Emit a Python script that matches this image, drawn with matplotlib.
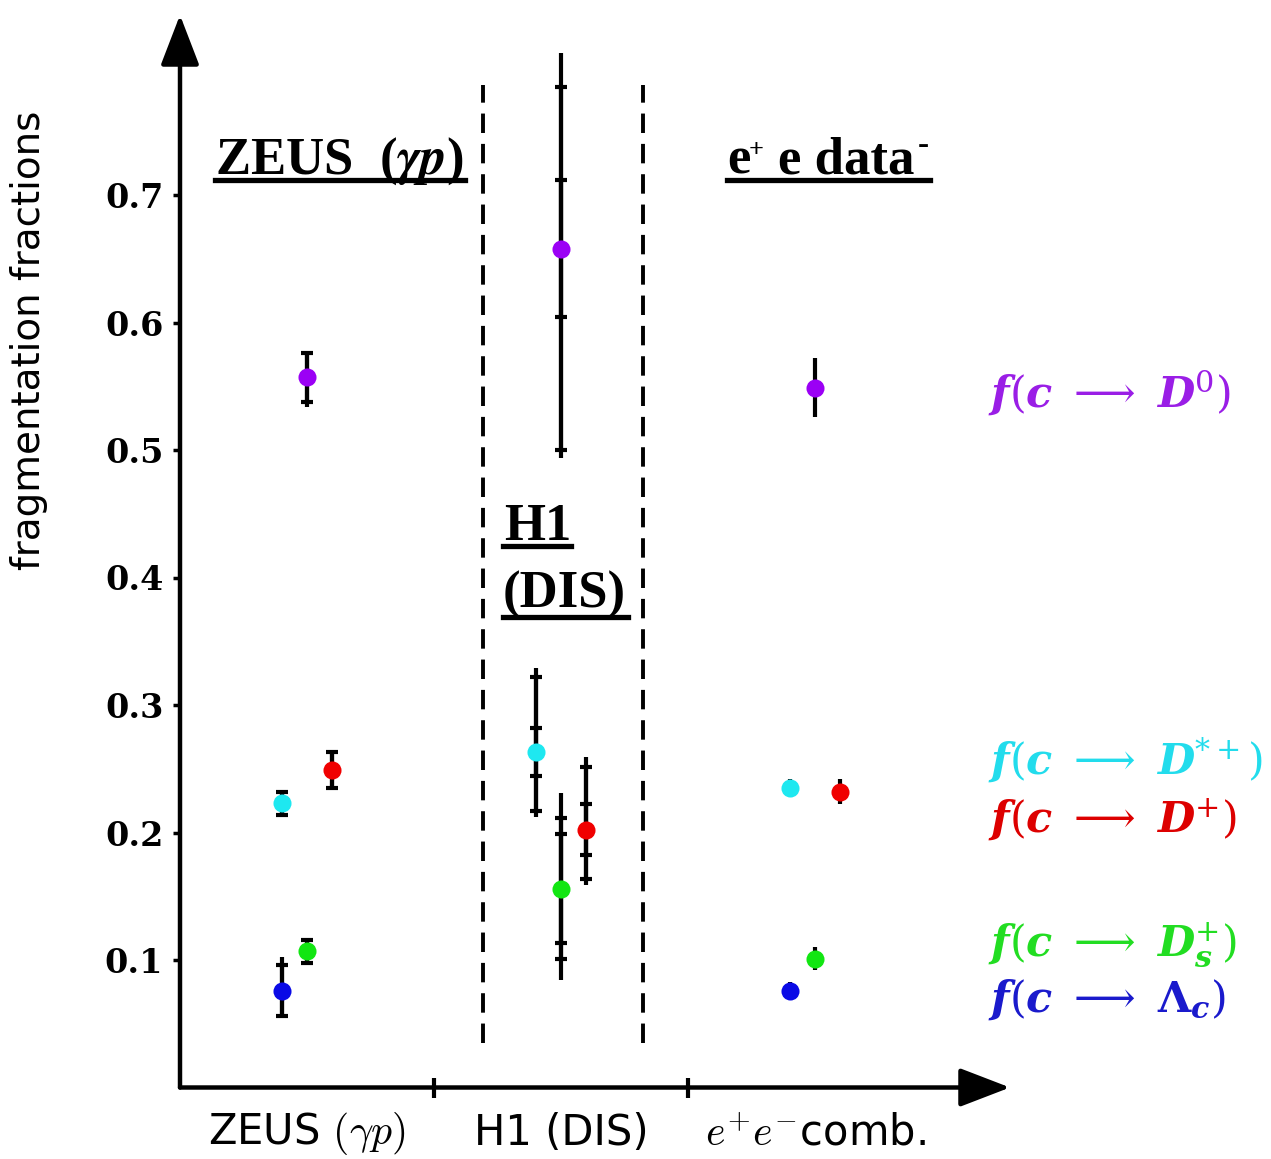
import matplotlib
matplotlib.use('Agg')
import matplotlib.pyplot as plt
from matplotlib.lines import Line2D

W, H = 1271, 1159

# ---------------- data ----------------
group_centres = [0.5, 1.5, 2.5]          # ZEUS, H1, e+e-
channels = ['D0', 'D*+', 'D+', 'Ds+', 'Lc']
channel_offsets = [0.0, -0.1, 0.1, 0.0, -0.1]
colors = ['#9b00f5', '#1ee8f0', '#f00000', '#12e612', '#0a0ae6']
label_colors = ['#9a1ee6', '#22dcec', '#dd0000', '#22dd22', '#1a1acc']

# ZEUS (gamma p): value, stat error (capped), total error (line end)
zeus_val = [0.557, 0.223, 0.249, 0.107, 0.076]
zeus_stat = [0.019, 0.009, 0.014, 0.009, 0.020]
zeus_tot_up = [0.020, 0.009, 0.015, 0.010, 0.026]
zeus_tot_dn = [0.023, 0.010, 0.016, 0.010, 0.020]

# H1 (DIS): D0, D*+, D+, Ds+  (no Lambda_c)
h1_val = [0.658, 0.263, 0.202, 0.156]
h1_stat = [0.054, 0.019, 0.020, 0.043]
h1_sys_up = [0.127, 0.059, 0.049, 0.055]
h1_sys_dn = [0.158, 0.046, 0.0385, 0.055]
h1_tot_up = [0.153, 0.066, 0.057, 0.075]
h1_tot_dn = [0.164, 0.051, 0.043, 0.072]

# e+e- combined
ee_val = [0.549, 0.235, 0.232, 0.101, 0.076]
ee_err = [0.023, 0.007, 0.010, 0.009, 0.007]

yticks = [0.1, 0.2, 0.3, 0.4, 0.5, 0.6, 0.7]
ytick_labels = ['0.1', '0.2', '0.3', '0.4', '0.5', '0.6', '0.7']
xtick_pos = [1, 2]
group_labels = [r'ZEUS $(\gamma p)$', 'H1 (DIS)', r'$e^{+}e^{-}$comb.']
dividers = [1.193, 1.823]
channel_labels = [r'$\mathbfit{f}(\mathbfit{c}\ \longrightarrow\ \mathbfit{D}^{0})$',
                  r'$\mathbfit{f}(\mathbfit{c}\ \longrightarrow\ \mathbfit{D}^{*+})$',
                  r'$\mathbfit{f}(\mathbfit{c}\ \longrightarrow\ \mathbfit{D}^{+})$',
                  r'$\mathbfit{f}(\mathbfit{c}\ \longrightarrow\ \mathbfit{D}_{\mathbfit{s}}^{+})$',
                  r'$\mathbfit{f}(\mathbfit{c}\ \longrightarrow\ \mathbf{\Lambda}_{\mathbfit{c}})$']

# ---------------- figure ----------------
fig = plt.figure(figsize=(W / 100, H / 100), dpi=100)
x0p, x1p, y0p, y1p = 180, 1010, 1087.5, 15
ax = fig.add_axes([x0p / W, 1 - y0p / H, (x1p - x0p) / W, (y0p - y1p) / H])
XMAX = (x1p - x0p) / 254.0
YMAX = (y0p - y1p) / 1275.0
ax.set_xlim(0, XMAX)
ax.set_ylim(0, YMAX)
for s in ax.spines.values():
    s.set_visible(False)


def fx(px):
    return px / W


def fy(py):
    return 1 - py / H


# axes arrows
arrow_kw = dict(arrowstyle='-|>,head_length=1.3,head_width=0.5', lw=3.2,
                color='black', shrinkA=0, shrinkB=0, mutation_scale=24)
ax.annotate('', xy=(0, YMAX), xytext=(0, 0), arrowprops=arrow_kw,
            annotation_clip=False)
ax.annotate('', xy=(XMAX, 0), xytext=(0, 0), arrowprops=arrow_kw,
            annotation_clip=False)

# ticks
ax.set_yticks(yticks)
ax.set_yticklabels(ytick_labels, fontsize=24, family='DejaVu Serif',
                   weight='bold')
ax.tick_params(axis='y', direction='out', length=5, width=2.5, pad=7)
ax.set_xticks(xtick_pos)
ax.set_xticklabels([])
ax.tick_params(axis='x', direction='inout', length=15, width=3)

ax.set_ylabel('fragmentation fractions', fontsize=28, family='DejaVu Sans')
ax.yaxis.set_label_coords(-(180 - 48) / (x1p - x0p), (y0p - 340) / (y0p - y1p))

for c, lab in zip(group_centres, group_labels):
    ax.text(c, -0.036, lab, ha='center', va='center', fontsize=30,
            family='DejaVu Sans', math_fontfamily='cm')

# dashed dividers
for d in dividers:
    ax.plot([d, d], [0.035, 0.786], color='black', lw=2.8,
            linestyle=(0, (5, 2.8)))

ms = 13
elw = 3.0
# ZEUS
for i in range(5):
    x = group_centres[0] + channel_offsets[i]
    ax.errorbar([x], [zeus_val[i]], yerr=[[zeus_tot_dn[i]], [zeus_tot_up[i]]],
                fmt='none', ecolor='black', elinewidth=elw, capsize=0, zorder=2)
    ax.errorbar([x], [zeus_val[i]], yerr=zeus_stat[i], fmt='none',
                ecolor='black', elinewidth=elw, capsize=4.5, capthick=3,
                zorder=2)
    ax.plot([x], [zeus_val[i]], 'o', color=colors[i], ms=ms, mec='none',
            zorder=3)

# H1
for i in range(4):
    x = group_centres[1] + channel_offsets[i]
    ax.errorbar([x], [h1_val[i]], yerr=[[h1_tot_dn[i]], [h1_tot_up[i]]],
                fmt='none', ecolor='black', elinewidth=elw, capsize=0, zorder=2)
    ax.errorbar([x], [h1_val[i]], yerr=[[h1_sys_dn[i]], [h1_sys_up[i]]],
                fmt='none', ecolor='black', elinewidth=elw, capsize=4,
                capthick=3, zorder=2)
    ax.errorbar([x], [h1_val[i]], yerr=h1_stat[i], fmt='none',
                ecolor='black', elinewidth=elw, capsize=4, capthick=3,
                zorder=2)
    ax.plot([x], [h1_val[i]], 'o', color=colors[i], ms=ms, mec='none',
            zorder=3)

# e+e-
for i in range(5):
    x = group_centres[2] + channel_offsets[i]
    ax.errorbar([x], [ee_val[i]], yerr=ee_err[i], fmt='none', ecolor='black',
                elinewidth=elw, capsize=0, zorder=2)
    ax.plot([x], [ee_val[i]], 'o', color=colors[i], ms=ms, mec='none',
            zorder=3)

# channel labels on the right
label_y = [393, 760, 820, 945, 1000]
for lab, col, py in zip(channel_labels, label_colors, label_y):
    fig.text(fx(988), fy(py), lab, color=col, fontsize=31, ha='left',
             va='center', math_fontfamily='dejavuserif')

# experiment titles (underlined)
title_kw = dict(family='Liberation Serif', weight='bold', fontsize=38,
                math_fontfamily='stix', ha='left', va='baseline')
fig.text(fx(215), fy(174), r'ZEUS  ($\mathbfit{\gamma p}$)', **title_kw)
fig.text(fx(727), fy(174), 'e', **title_kw)
fig.text(fx(749), fy(157), '+', family='Liberation Serif', weight='bold',
         fontsize=19, ha='left', va='baseline')
fig.text(fx(778), fy(174), 'e data', **title_kw)
fig.text(fx(918), fy(154), '-', family='Liberation Serif', weight='bold',
         fontsize=24, ha='left', va='baseline')
fig.text(fx(504), fy(540), 'H1', **title_kw)
fig.text(fx(503), fy(608), '(DIS)', **title_kw)


def underline(xa, xb, py):
    fig.add_artist(Line2D([fx(xa), fx(xb)], [fy(py), fy(py)], color='black',
                          lw=3.8, transform=fig.transFigure))


underline(215, 465, 180)
underline(727, 930, 180)
underline(503, 571, 546)
underline(503, 628, 617)

fig.savefig('out.png', dpi=100, facecolor='white')
